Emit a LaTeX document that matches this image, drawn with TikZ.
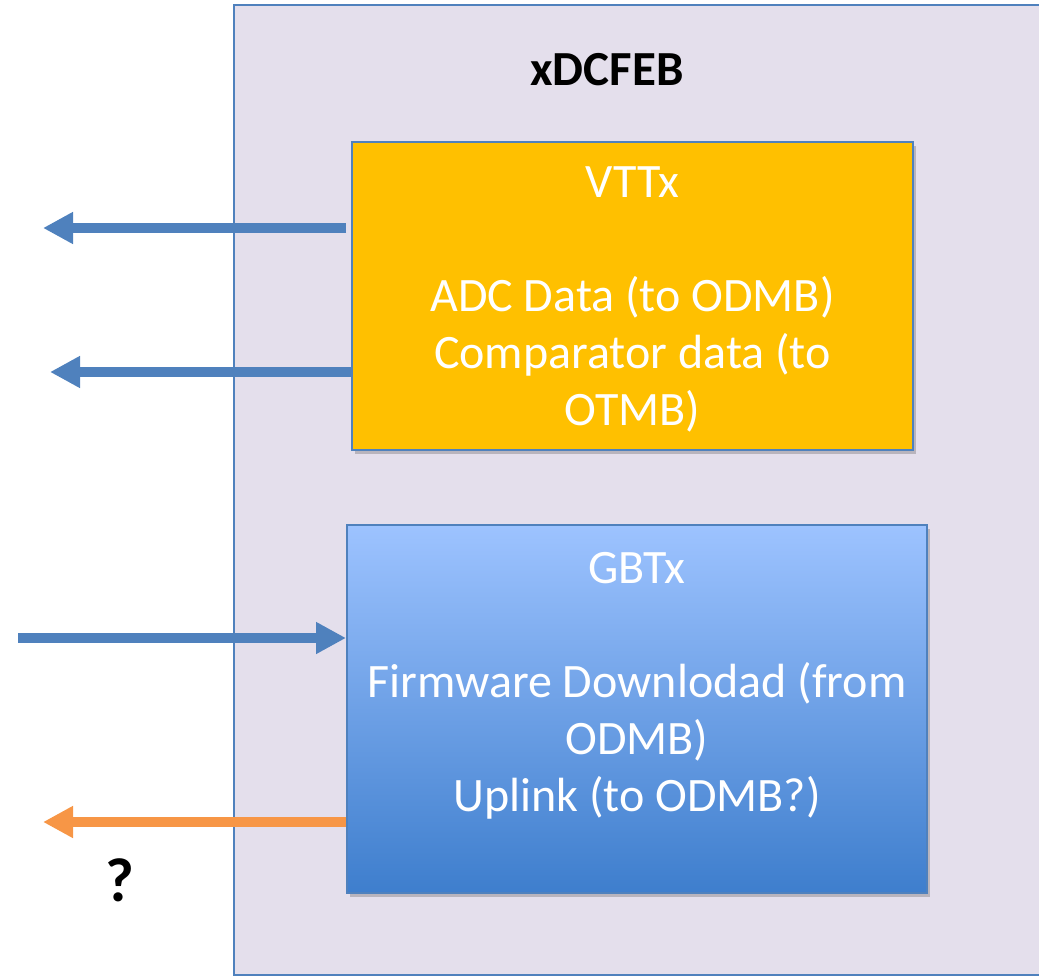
\documentclass[tikz,border=0pt]{standalone}
\usepackage{fontspec}
\setmainfont{Carlito}
\usetikzlibrary{arrows.meta,shadows}
\definecolor{lav}{RGB}{228,223,236}
\definecolor{edgeblue}{RGB}{79,129,189}
\definecolor{gold}{RGB}{255,192,0}
\definecolor{orangeA}{RGB}{247,150,70}
\definecolor{gtop}{RGB}{157,195,255}
\definecolor{gbot}{RGB}{62,126,205}
\tikzset{
  box/.style={draw=edgeblue, line width=2pt, rectangle, inner sep=0pt,
    drop shadow={shadow xshift=3pt, shadow yshift=-4pt, opacity=0.35, fill=black!60}},
  btext/.style={text=white, align=center, font=\fontsize{48}{57}\selectfont},
  link/.style={line width=10pt, -{Triangle[length=30pt,width=30pt]}},
}
\begin{document}
\begin{tikzpicture}[x=1pt,y=-1pt]
\useasboundingbox (0,0) rectangle (1039,976);
\node[draw=edgeblue, fill=lav, line width=2pt, rectangle, inner sep=0pt,
  minimum width=812pt, minimum height=970pt, anchor=north west] (outer) at (233,4) {};
\node[font=\fontsize{49}{52}\selectfont\bfseries] (title) at (607,70) {xDCFEB};
\node[box, fill=gold, minimum width=561pt, minimum height=308pt] (vttx) at (632.5,296) {};
\node[btext] (vttxtext) at (632.5,299) {VTTx\\[57pt]ADC Data (to ODMB)\\Comparator data (to\\OTMB)};
\node[box, top color=gtop, bottom color=gbot, minimum width=580pt, minimum height=368pt] (gbtx) at (637,709) {};
\node[btext] (gbtxtext) at (637,686) {GBTx\\[57pt]Firmware Downlodad (from\\ODMB)\\Uplink (to ODMB?)};
\node[font=\fontsize{62}{66}\selectfont\bfseries] (q) at (120,880) {?};
\coordinate (e1) at (43,228);
\coordinate (e2) at (50,372);
\coordinate (s3) at (18,638);
\coordinate (e4) at (43,822);
\draw[link, edgeblue] (vttx.west |- e1) ++(-5,0) -- (e1);
\draw[link, edgeblue] (vttx.west |- e2) -- (e2);
\draw[link, edgeblue] (s3) -- (gbtx.west |- s3);
\draw[link, orangeA] (gbtx.west |- e4) -- (e4);
\end{tikzpicture}
\end{document}
